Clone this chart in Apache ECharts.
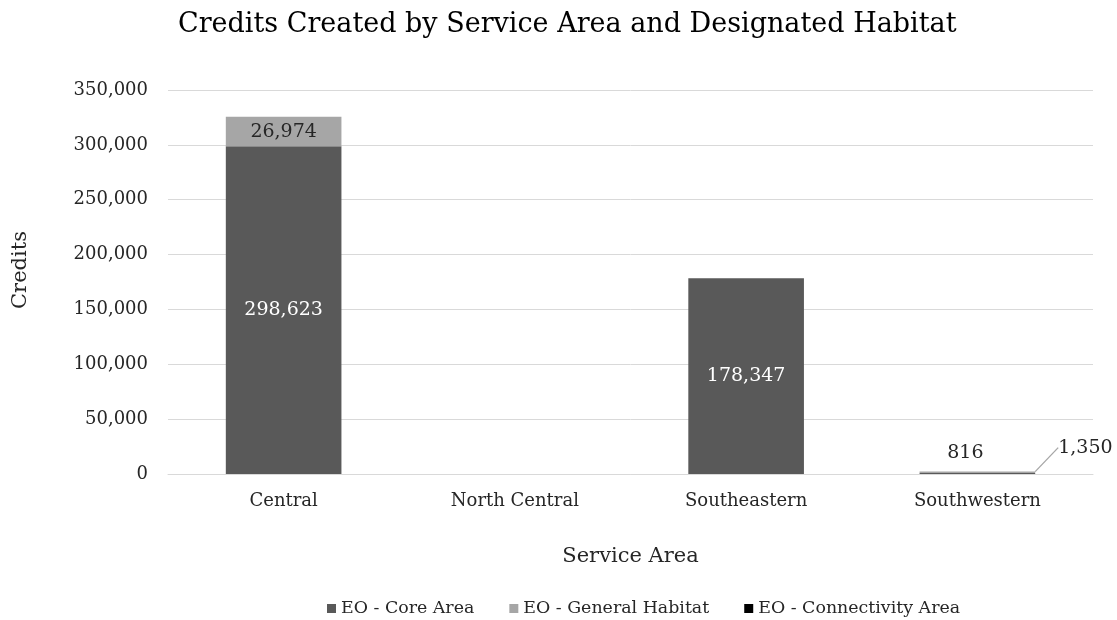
<!DOCTYPE html>
<html><head><meta charset="utf-8">
<script src="https://cdn.jsdelivr.net/npm/echarts@6/dist/echarts.min.js"></script>
<style>html,body{margin:0;padding:0;background:#fff}#c{width:1117px;height:620px}</style>
</head><body><div id="c"></div>
<script>
var categories = ['Central', 'North Central', 'Southeastern', 'Southwestern'];
var coreArea = [298623, 0, 178347, 816];
var generalHabitat = [26974, 0, 0, 1350];
var connectivityArea = [0, 0, 0, 0];
var yTicks = [0, 50000, 100000, 150000, 200000, 250000, 300000, 350000];

var FONT = 'DejaVu Serif';
function fmt(v){ return v.toLocaleString('en-US'); }
var chart = echarts.init(document.getElementById('c'));

function coreData(){
  return coreArea.map(function(v, i){
    var d = {value: v};
    if (v === 0) d.label = {show: false};
    else if (v < 10000) d.label = {show: true, position: 'top', color: '#262626', offset: [-12, -6]};
    return d;
  });
}
function genData(){
  return generalHabitat.map(function(v, i){
    var d = {value: v};
    if (v === 0) d.label = {show: false};
    else if (v < 10000) {
      d.label = {show: true, position: 'right', color: '#262626'};
      d.labelLine = {show: true, lineStyle: {color: '#a6a6a6', width: 1.3}};
    }
    return d;
  });
}

chart.setOption({
  animation: false,
  textStyle: {fontFamily: FONT},
  title: {
    text: 'Credits Created by Service Area and Designated Habitat',
    left: 173, top: 6,
    textStyle: {fontFamily: FONT, fontSize: 27, fontWeight: 'normal', color: '#000'}
  },
  legend: {
    top: 595, left: 322, itemWidth: 9, itemHeight: 9, itemGap: 35,
    icon: 'rect',
    textStyle: {fontFamily: FONT, fontSize: 17.4, color: '#262626'},
    data: ['EO - Core Area', 'EO - General Habitat', 'EO - Connectivity Area']
  },
  grid: {left: 168, right: 24, top: 90, bottom: 146},
  xAxis: {
    type: 'category', data: categories,
    name: 'Service Area', nameLocation: 'middle', nameGap: 72,
    nameTextStyle: {fontFamily: FONT, fontSize: 21, color: '#262626'},
    axisLine: {lineStyle: {color: '#d9d9d9'}},
    axisTick: {show: false},
    axisLabel: {fontFamily: FONT, fontSize: 18, color: '#262626', margin: 18}
  },
  yAxis: {
    type: 'value', min: 0, max: 350000, interval: 50000,
    name: 'Credits', nameLocation: 'middle', nameGap: 137, nameRotate: 90,
    nameTextStyle: {fontFamily: FONT, fontSize: 21, color: '#262626', padding: [0, 0, 0, 24]},
    axisLine: {show: false}, axisTick: {show: false},
    splitLine: {lineStyle: {color: '#d9d9d9'}},
    axisLabel: {fontFamily: FONT, fontSize: 18, color: '#262626', margin: 20,
      formatter: function(v){ return fmt(v); }}
  },
  series: [
    {name: 'EO - Core Area', type: 'bar', stack: 's', barWidth: '50%',
     itemStyle: {color: '#595959'}, data: coreData(),
     label: {show: true, position: 'inside', color: '#fff', fontFamily: FONT, fontSize: 19,
       formatter: function(p){ return fmt(p.value); }}},
    {name: 'EO - General Habitat', type: 'bar', stack: 's',
     itemStyle: {color: '#a6a6a6'}, data: genData(),
     label: {show: true, position: 'inside', color: '#262626', fontFamily: FONT, fontSize: 19,
       formatter: function(p){ return fmt(p.value); }},
     labelLayout: function(params){
       if (params.dataIndex === 3) {
         return {x: params.rect.x + params.rect.width + 23, y: params.rect.y - 24, align: 'left', verticalAlign: 'middle'};
       }
       return {};
     }},
    {name: 'EO - Connectivity Area', type: 'bar', stack: 's',
     itemStyle: {color: '#000'}, data: connectivityArea,
     label: {show: false}}
  ]
});
</script></body></html>
